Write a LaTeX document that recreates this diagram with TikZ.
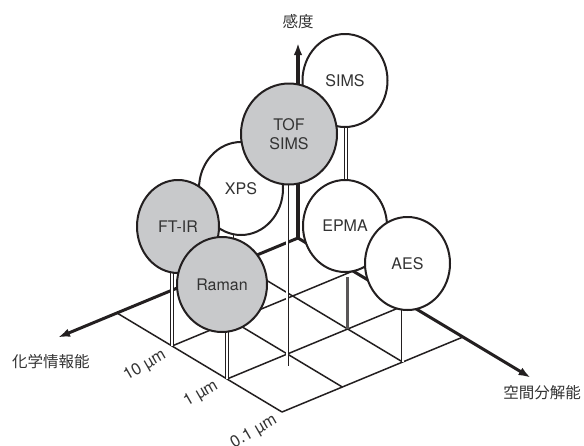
\documentclass[tikz,border=0pt]{standalone}
\usepackage{fontspec}
\setmainfont{TeX Gyre Heros}
\newfontfamily\jpfont{Noto Sans CJK JP}
\usetikzlibrary{arrows.meta,shapes.geometric}
\definecolor{ink}{HTML}{231F20}
\definecolor{txt}{HTML}{333333}
\definecolor{fillgray}{HTML}{C8C9CB}
\begin{document}
\begin{tikzpicture}[x=1pt,y=-1pt,
  gridline/.style={draw=ink, line width=1.5pt},
  axisline/.style={draw=ink, line width=3pt, -{Latex[length=12pt,width=8.5pt]}},
  stemline/.style={draw=ink, line width=0.9pt, double=white, double distance=1.7pt},
  graystem/.style={draw=ink!75, line width=2.6pt},
  blob/.style={ellipse, draw=ink, line width=2pt, fill=white, text=txt,
    font=\fontsize{16}{19.5}\selectfont, inner sep=0pt, align=center},
  grayblob/.style={blob, fill=fillgray},
  axlabel/.style={text=txt, font=\jpfont\fontsize{15.5}{18}\selectfont},
  ticklabel/.style={text=txt, font=\fontsize{16.5}{19}\selectfont, rotate=30}
]
\useasboundingbox (0,0) rectangle (584,445);
\fill[white] (0,0) rectangle (584,445);

% floor grid points
\foreach \i in {0,...,3}{
  \foreach \j in {0,...,3}{
    \coordinate (g\i\j) at ({298-60.33*\i+55*\j},{238+25*\i+33*\j});
  }
}
\coordinate (uend) at (58,337.4);
\coordinate (vend) at (530.6,377.6);
\coordinate (send) at (298,43);

% circle centres
\coordinate (c-sims) at (345,80.5);
\coordinate (c-tof) at (289,134);
\coordinate (c-xps) at (241,188.5);
\coordinate (c-ftir) at (178,226.5);
\coordinate (c-raman) at (222,284.5);
\coordinate (c-epma) at (345,226);
\coordinate (c-aes) at (407.5,263.5);

% thin grid lines
\foreach \k in {1,2,3}{
  \draw[gridline] (g\k0) -- (g\k3);
  \draw[gridline] (g0\k) -- (g3\k);
}

% axes
\draw[axisline] (g00) -- (uend);
\draw[axisline] (g00) -- (vend);
\draw[axisline, line width=3.4pt] (g00) -- (send);

% stems
\coordinate (sims-foot) at (346,200);
\coordinate (tof-foot) at (287.33,366);
\coordinate (epma-top) at (347.67,277);
\draw[stemline] (sims-foot) -- (sims-foot |- c-sims);
\draw[stemline] (tof-foot) -- (tof-foot |- c-tof);
\draw[stemline] (g21) -- (g21 |- c-xps);
\draw[stemline] (g31) -- (g31 |- c-ftir);
\draw[stemline] (g32) -- (g32 |- c-raman);
\draw[graystem] (g12) -- (epma-top);
\draw[stemline] (g13) -- (g13 |- c-aes);

% circles, back to front
\node[blob, minimum width=85pt, minimum height=93pt] (sims) at (c-sims) {SIMS};
\node[blob, minimum width=84pt, minimum height=93pt] (xps) at (c-xps) {XPS};
\node[grayblob, minimum width=96pt, minimum height=101pt] (tof) at (c-tof) {TOF\\SIMS};
\node[grayblob, minimum width=82pt, minimum height=93pt] (ftir) at (c-ftir) {FT-IR};
\node[grayblob, minimum width=90pt, minimum height=95pt] (raman) at (c-raman) {Raman};
\node[blob, minimum width=84pt, minimum height=92pt] (epma) at (c-epma) {EPMA};
\node[blob, minimum width=85pt, minimum height=93pt] (aes) at (c-aes) {AES};

% labels
\node[axlabel] (lab-s) at (298,22) {感度};
\node[axlabel] (lab-c) at (51,362) {化学情報能};
\node[axlabel] (lab-r) at (542,393) {空間分解能};
\node[ticklabel] (t10) at (145,366) {10 µm};
\node[ticklabel] (t1) at (201,394) {1 µm};
\node[ticklabel] (t01) at (254,432) {0.1 µm};
\end{tikzpicture}
\end{document}
